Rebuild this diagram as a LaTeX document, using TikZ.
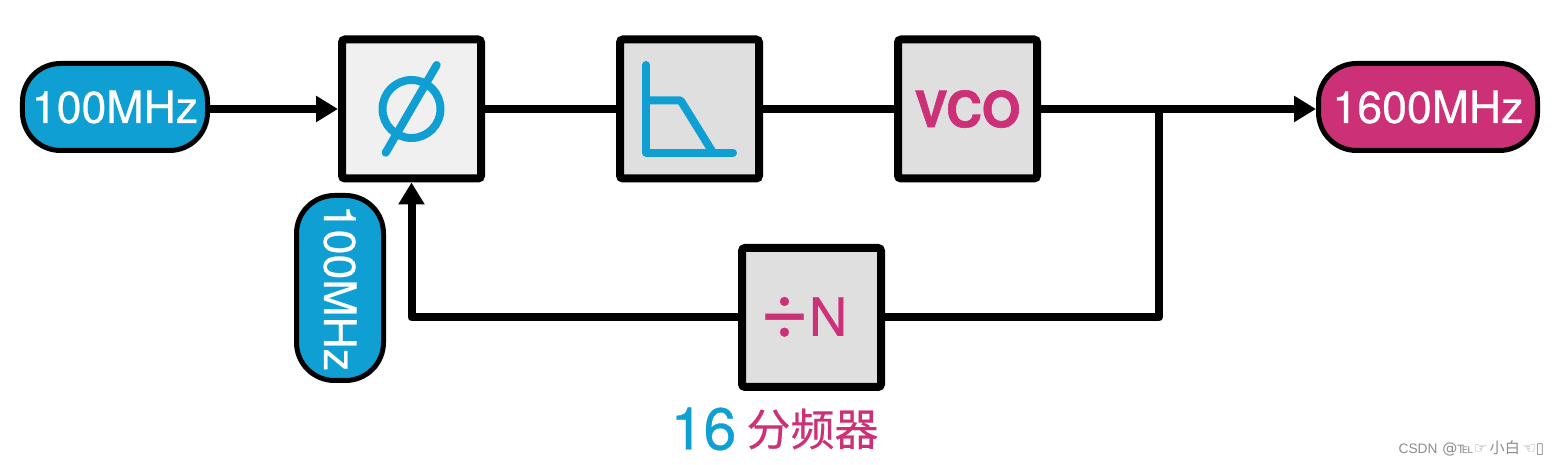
\documentclass[tikz,border=0pt]{standalone}
\usepackage{fontspec}
\setmainfont{TeX Gyre Heros}[FakeBold=0.5]
\newfontfamily\plainfont{Liberation Sans}
\newfontfamily\heavyfont{TeX Gyre Heros Bold}[FakeBold=1.2]
\newfontfamily\cjkfont{Noto Sans CJK SC}[FakeBold=0.4]
\newfontfamily\markcjk{Noto Sans CJK SC}
\newfontfamily\markfont{DejaVu Sans}
\usetikzlibrary{arrows.meta}
\definecolor{clkblue}{HTML}{0F9FD3}
\definecolor{outpink}{HTML}{CC3178}
\tikzset{
  block/.style={draw, line width=0.08cm, fill=gray!25, rounded corners=0.03cm, minimum size=1.39cm, inner sep=0pt},
  pill/.style={draw, line width=0.05cm, rounded corners=0.38cm, minimum height=0.87cm, inner sep=0pt, text=white, font=\fontsize{12.7}{14}\selectfont},
  wire/.style={line width=0.08cm, line join=round},
  feed/.style={wire, -{Triangle[length=0.22cm,width=0.25cm]}},
  icon/.style={clkblue, line width=0.08cm, line cap=round, line join=round}
}
\begin{document}
\begin{tikzpicture}
  \useasboundingbox (0,0) rectangle (15.59,4.65);

% --- BLOCKS ---
  \node[block, fill=black!6] (pd) at (4.115,3.56) {};
  \node[block] (lpf) at (6.895,3.56) {};
  \node[block, text=outpink, font=\fontsize{14.2}{16}\selectfont\heavyfont] (vco) at (9.675,3.56) {VCO};
  \node[block, text=outpink, font=\fontsize{15}{17}\selectfont] (divn) at (8.115,1.475) {{\fontsize{24}{24}\selectfont\raisebox{-0.6pt}{÷}}N\hspace*{0.16cm}};

% clocks
  \node[pill, fill=clkblue, minimum width=1.85cm] (refclk) at (1.15,3.58) {100MHz};
  \node[pill, fill=outpink, minimum width=2.19cm] (outclk) at (14.28,3.58) {1600MHz};
  \node[pill, fill=clkblue, minimum width=1.85cm, rotate=-90] (fbclk) at (3.40,1.77) {100MHz};

% --- WIRES ---
  \coordinate (tap) at (11.59,3.56);
  \draw[feed] (refclk.east |- pd.west) -- (pd.west);
  \draw[wire] (pd.east) -- (lpf.west);
  \draw[wire] (lpf.east) -- (vco.west);
  \draw[feed] (vco.east) -- (outclk.west |- vco.east);
  \draw[wire] (divn.east) -| (tap);
  \draw[feed] (divn.west) -| (pd.south);

% phase icon
  \draw[icon] (pd) circle (0.29);
  \draw[icon] (4.367,4.00) -- (3.857,3.123);

% filter icon
  \draw[icon] (6.46,4.00) -- (6.46,3.123) -- (7.33,3.123);
  \draw[icon] (6.46,3.645) -- (6.807,3.645) -- (7.13,3.123);

% --- LABELS ---
  \node[clkblue, inner sep=0pt, font=\fontsize{16.8}{18}\selectfont] (ratio) at (7.035,0.36) {16};
  \node[outpink, inner sep=0pt, font=\cjkfont\fontsize{12.5}{14}\selectfont] (divname) at (8.125,0.36) {分频器};
  \node[black!45, inner sep=0pt, anchor=east, font=\markfont\fontsize{4.3}{5}\selectfont] (mark) at (15.45,0.17) {{\plainfont\fontsize{3.9}{5}\selectfont CSDN} @℡☞\,{\markcjk 小白}\,☜▯};
\end{tikzpicture}
\end{document}
